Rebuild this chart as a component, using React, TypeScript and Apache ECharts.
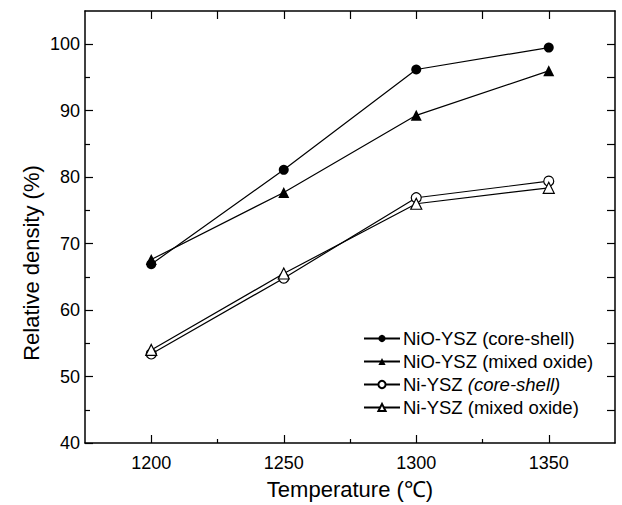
import React, { useEffect, useRef } from "react";
import * as echarts from "echarts";

const temperatures = [1200, 1250, 1300, 1350];
const nioCoreShell = [66.9, 81.1, 96.2, 99.5];
const nioMixed = [67.6, 77.7, 89.3, 96.0];
const niCoreShell = [53.4, 64.8, 76.9, 79.4];
const niMixed = [54.0, 65.5, 76.0, 78.4];

const seriesNames = [
  "NiO-YSZ (core-shell)",
  "NiO-YSZ (mixed oxide)",
  "Ni-YSZ (core-shell)",
  "Ni-YSZ (mixed oxide)",
];

const xMajorTicks = [1200, 1250, 1300, 1350];
const xMinorTicks = [1225, 1275, 1325];
const xAllTicks = [1200, 1225, 1250, 1275, 1300, 1325, 1350];
const yMajorTicks = [40, 50, 60, 70, 80, 90, 100];
const yMinorTicks = [45, 55, 65, 75, 85, 95];
const yAllTicks = [45, 50, 55, 60, 65, 70, 75, 80, 85, 90, 95, 100];

const FONT = "Liberation Sans, Arial, Helvetica, sans-serif";

export default function App() {
  const ref = useRef<HTMLDivElement>(null);
  useEffect(() => {
    if (!ref.current) return;
    const chart = echarts.init(ref.current, undefined, { renderer: "svg" });
    const pairs = (vals: number[]) => temperatures.map((t, i) => [t, vals[i]]);
    const axisLine = { show: true, lineStyle: { color: "#000", width: 1.5 } };
    const baseX = {
      type: "value" as const,
      min: 1175,
      max: 1375,
      splitLine: { show: false },
      gridIndex: 0,
    };
    const baseY = {
      type: "value" as const,
      min: 40,
      max: 105,
      splitLine: { show: false },
      gridIndex: 0,
    };
    const lineSeries = (name: string, vals: number[], symbol: string, filled: boolean) => ({
      name,
      type: "line",
      data: pairs(vals),
      symbol,
      symbolSize: symbol === "triangle" ? 11 : 10,
      lineStyle: { color: "#000", width: 1.2 },
      itemStyle: {
        color: filled ? "#000" : "#fff",
        borderColor: "#000",
        borderWidth: filled ? 0 : 1.2,
      },
      emphasis: { disabled: true },
      z: 3,
    });
    chart.setOption({
      animation: false,
      backgroundColor: "#fff",
      textStyle: { fontFamily: FONT, color: "#000" },
      grid: { left: 85, right: 7, top: 11, bottom: 62, containLabel: false },
      xAxis: [
        {
          ...baseX,
          position: "bottom",
          axisLine,
          axisTick: { show: true, inside: true, length: 8, customValues: xMajorTicks, lineStyle: { color: "#000", width: 1.2 } },
          axisLabel: {
            show: true,
            customValues: xMajorTicks,
            formatter: (v: number) => String(v),
            fontSize: 18,
            color: "#000",
            fontFamily: FONT,
            margin: 11,
          },
        },
        {
          ...baseX,
          position: "bottom",
          axisLine: { show: false },
          axisTick: { show: true, inside: true, length: 4, customValues: xMinorTicks, lineStyle: { color: "#000", width: 1.2 } },
          axisLabel: { show: false },
        },
        {
          ...baseX,
          position: "top",
          axisLine,
          axisTick: { show: true, inside: true, length: 8, customValues: xAllTicks, lineStyle: { color: "#000", width: 1.2 } },
          axisLabel: { show: false },
        },
      ],
      yAxis: [
        {
          ...baseY,
          position: "left",
          axisLine,
          axisTick: { show: true, inside: true, length: 8, customValues: yMajorTicks, lineStyle: { color: "#000", width: 1.2 } },
          axisLabel: {
            show: true,
            customValues: yMajorTicks,
            formatter: (v: number) => String(v),
            fontSize: 18,
            color: "#000",
            fontFamily: FONT,
            margin: 5,
          },
        },
        {
          ...baseY,
          position: "left",
          axisLine: { show: false },
          axisTick: { show: true, inside: true, length: 5, customValues: yMinorTicks, lineStyle: { color: "#000", width: 1.2 } },
          axisLabel: { show: false },
        },
        {
          ...baseY,
          position: "right",
          axisLine,
          axisTick: { show: true, inside: true, length: 8, customValues: yAllTicks, lineStyle: { color: "#000", width: 1.2 } },
          axisLabel: { show: false },
        },
      ],
      legend: {
        orient: "vertical",
        left: 363,
        top: 329,
        itemWidth: 36,
        itemHeight: 9,
        itemGap: 4,
        padding: 0,
        data: seriesNames,
        textStyle: {
          fontSize: 18.5,
          color: "#000",
          fontFamily: FONT,
          padding: [0, 0, 0, -2],
          rich: { it: { fontStyle: "italic", fontSize: 18.5, color: "#000", fontFamily: FONT } },
        },
        formatter: (name: string) =>
          name === "Ni-YSZ (core-shell)" ? "Ni-YSZ {it|(core-shell)}" : name,
      },
      graphic: [
        {
          type: "text",
          x: 31,
          y: 263,
          rotation: Math.PI / 2,
          style: {
            text: "Relative density (%)",
            fontSize: 22,
            fontFamily: FONT,
            fill: "#000",
            align: "center",
            verticalAlign: "middle",
          },
        },
        {
          type: "text",
          x: 350,
          y: 489,
          style: {
            text: "Temperature (℃)",
            fontSize: 22,
            fontFamily: FONT,
            fill: "#000",
            align: "center",
            verticalAlign: "middle",
          },
        },
      ],
      series: [
        lineSeries(seriesNames[0], nioCoreShell, "circle", true),
        lineSeries(seriesNames[1], nioMixed, "triangle", true),
        lineSeries(seriesNames[2], niCoreShell, "circle", false),
        lineSeries(seriesNames[3], niMixed, "triangle", false),
      ],
    });
    return () => chart.dispose();
  }, []);
  return <div ref={ref} style={{ width: 622, height: 505, position: "absolute", left: 0, top: 0 }} />;
}
